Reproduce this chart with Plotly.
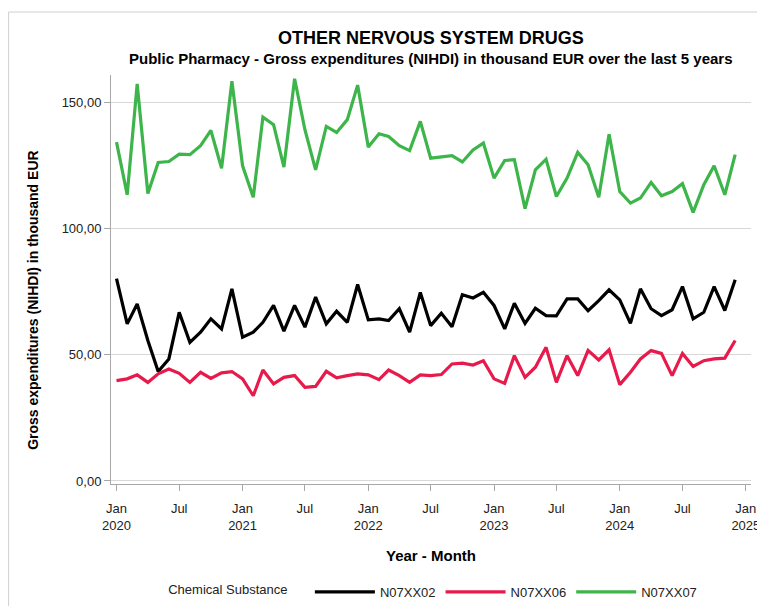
import pandas as pd
import plotly.graph_objs as go

# monthly values, Jan 2020 .. Dec 2024 (thousand EUR)
months = pd.date_range('2020-01-01', periods=60, freq='MS')

n07xx02 = [80.2, 62.3, 70.2, 55.7, 43.4, 48.4, 66.9, 55.0, 59.0, 64.3, 60.3, 76.2,
           57.0, 59.0, 62.9, 69.6, 59.4, 69.6, 61.0, 72.9, 62.3, 67.3, 62.9, 77.9,
           63.9, 64.3, 63.6, 68.3, 59.0, 74.8, 61.6, 66.5, 61.2, 73.9, 72.6, 74.8,
           69.6, 60.3, 70.5, 62.5, 68.5, 65.6, 65.5, 72.2, 72.2, 67.5, 71.5, 75.8,
           71.8, 62.5, 76.2, 68.3, 65.6, 67.9, 77.1, 64.3, 66.9, 77.1, 67.6, 79.8]

n07xx06 = [39.8, 40.5, 42.1, 39.1, 42.5, 44.4, 42.7, 39.1, 43.1, 40.7, 42.9, 43.4,
           40.5, 33.8, 44.0, 38.5, 41.1, 41.8, 37.1, 37.5, 43.5, 40.9, 41.8, 42.5,
           42.1, 40.2, 44.0, 41.8, 39.1, 42.1, 41.8, 42.2, 46.4, 46.7, 46.0, 47.7,
           40.5, 38.7, 49.7, 41.1, 45.1, 53.0, 39.1, 49.7, 41.8, 51.8, 48.0, 52.0,
           38.2, 43.1, 48.4, 51.7, 50.6, 41.8, 50.6, 45.4, 47.7, 48.4, 48.7, 55.7]

n07xx07 = [134.4, 113.5, 157.5, 114.0, 126.3, 126.7, 129.6, 129.4, 133.0, 139.0, 124.0, 158.5,
           125.0, 112.5, 144.3, 141.3, 124.5, 159.5, 139.3, 123.4, 140.6, 138.2, 143.3, 157.0,
           132.4, 137.7, 136.6, 133.0, 131.0, 142.6, 128.0, 128.4, 129.0, 126.5, 131.3, 134.0,
           120.1, 127.1, 127.4, 108.0, 123.4, 127.6, 112.8, 120.1, 130.3, 125.4, 112.5, 137.5,
           114.8, 110.2, 112.2, 118.4, 113.1, 114.8, 117.9, 106.5, 117.5, 125.0, 113.5, 129.4]

tick_dates = pd.date_range('2020-01-01', '2025-01-01', freq='6MS')
tick_text = ['Jan<br>2020', 'Jul', 'Jan<br>2021', 'Jul', 'Jan<br>2022', 'Jul',
             'Jan<br>2023', 'Jul', 'Jan<br>2024', 'Jul', 'Jan<br>2025']

font_name = 'Liberation Sans, Arial, sans-serif'

fig = go.Figure()
fig.add_trace(go.Scatter(x=months, y=n07xx02, mode='lines', name='N07XX02',
                         line=dict(color='#000000', width=3.2)))
fig.add_trace(go.Scatter(x=months, y=n07xx06, mode='lines', name='N07XX06',
                         line=dict(color='#E8194B', width=3.2)))
fig.add_trace(go.Scatter(x=months, y=n07xx07, mode='lines', name='N07XX07',
                         line=dict(color='#3DB54A', width=3.2)))

# page body adds an 8px offset, so the figure is 8px smaller than the window
fig.update_layout(
    width=757, height=598,
    margin=dict(l=103, r=14, t=67, b=122, autoexpand=False),
    paper_bgcolor='white', plot_bgcolor='white',
    font=dict(family=font_name, size=13, color='#222222'),
    separators=',.',
    showlegend=True,
    legend=dict(orientation='h', x=0.505, xanchor='center', y=-0.264, yanchor='middle',
                title=dict(text='Chemical Substance    ', font=dict(size=13), side='left'),
                font=dict(size=13), itemwidth=60, tracegroupgap=0, valign='middle'),
    annotations=[
        dict(text='<b>OTHER NERVOUS SYSTEM DRUGS</b>', xref='paper', yref='paper',
             x=0.5, y=1.09, xanchor='center', yanchor='middle', showarrow=False,
             font=dict(size=18, color='#000000')),
        dict(text='<b>Public Pharmacy - Gross expenditures (NIHDI) in thousand EUR over the last 5 years</b>',
             xref='paper', yref='paper', x=0.5, y=1.041, xanchor='center', yanchor='middle',
             showarrow=False, font=dict(size=15, color='#000000')),
        dict(text='<b>Gross expenditures (NIHDI) in thousand EUR</b>',
             xref='paper', yref='paper', x=-0.122, y=0.45, xanchor='center', yanchor='middle',
             textangle=-90, showarrow=False, font=dict(size=14, color='#000000')),
    ],
    shapes=[
        dict(type='line', xref='paper', yref='paper', x0=-0.16, x1=-0.16, y0=1.154, y1=-0.4,
             line=dict(color='#d0d0d0', width=1)),
        dict(type='line', xref='paper', yref='paper', x0=-0.16, x1=1.1, y0=1.154, y1=1.154,
             line=dict(color='#d0d0d0', width=1)),
    ],
)

fig.update_xaxes(
    range=['2019-12-16', '2025-01-16'],
    tickvals=tick_dates, ticktext=tick_text,
    showgrid=False, zeroline=False, automargin=False,
    showline=True, linecolor='#a8a8a8', linewidth=1,
    ticks='outside', ticklen=6, tickcolor='#a8a8a8', ticklabelstandoff=6,
    tickfont=dict(size=13, color='#222222'),
    title=dict(text='<b>Year - Month</b>', font=dict(size=15, color='#000000'), standoff=18),
)
fig.update_yaxes(
    range=[-1.2, 161],
    tickvals=[0, 50, 100, 150], tickformat='.2f',
    showgrid=True, gridcolor='#d8d8d8', gridwidth=1, zeroline=False, automargin=False,
    showline=True, linecolor='#a8a8a8', linewidth=1,
    ticks='outside', ticklen=6, tickcolor='#a8a8a8',
    tickfont=dict(size=13, color='#222222'),
)

fig.write_html("out.html")
